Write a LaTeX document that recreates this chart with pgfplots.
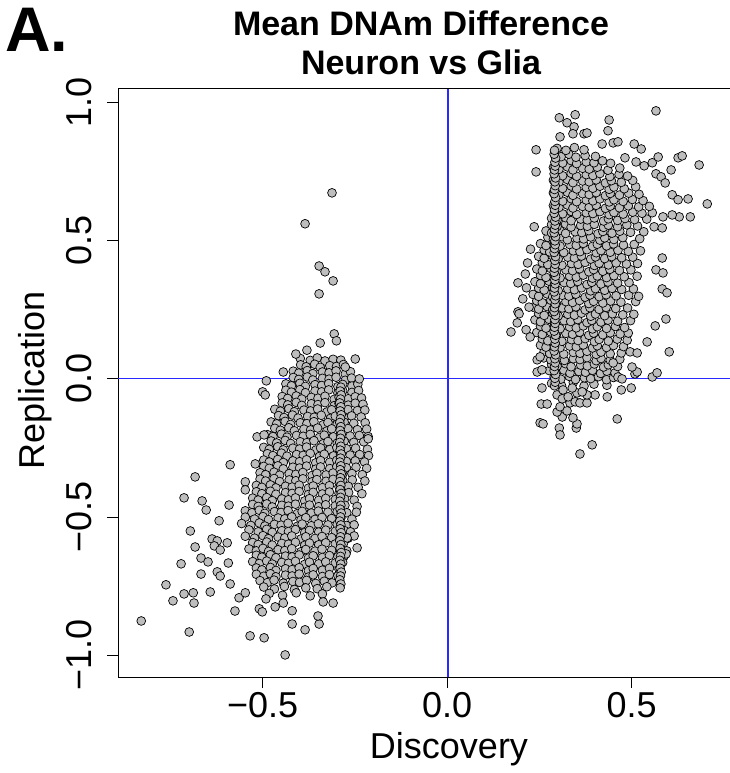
\documentclass[border=0pt]{standalone}
\usepackage{pgfplots}
\pgfplotsset{compat=1.18}
\usepackage{fontspec}
\setmainfont{Liberation Sans}
\definecolor{ptfill}{RGB}{190,190,190}
\definecolor{abl}{RGB}{40,40,255}
\begin{document}
\begin{tikzpicture}
\begin{axis}[
  at={(118pt,96pt)}, anchor=south west,
  scale only axis, width=624.3pt, height=588.2pt,
  xmin=-0.892, xmax=0.80, ymin=-1.080, ymax=1.051,
  axis line style={black, line width=0.9pt},
  xtick={-0.5,0,0.5}, xticklabels={−0.5,0.0,0.5},
  ytick={-1,-0.5,0,0.5,1}, yticklabels={−1.0,−0.5,0.0,0.5,1.0},
  tick align=outside, major tick length=11pt,
  xtick pos=bottom, ytick pos=left,
  tick style={black, line width=0.8pt},
  ticklabel style={font=\fontsize{36}{40}\selectfont},
  xticklabel style={anchor=base, inner sep=0pt},
  xticklabel shift=30pt,
  yticklabel style={rotate=90, anchor=base, inner sep=0pt},
  yticklabel shift=16pt,
  clip=false,
]
\addplot[only marks, mark=*, mark size=4.4pt, mark options={fill=ptfill, draw=black, line width=0.7pt}] coordinates {
(0.283,-0.016) (0.310,-0.024) (0.342,-0.013) (0.371,-0.026) (0.398,-0.019) (0.433,-0.023)
(0.290,0.007) (0.308,-0.001) (0.331,0.009) (0.348,-0.002) (0.372,0.004) (0.389,0.001) (0.410,0.008) (0.432,-0.003) (0.451,0.005)
(0.277,0.030) (0.296,0.023) (0.316,0.032) (0.333,0.021) (0.357,0.027) (0.375,0.024) (0.394,0.031) (0.416,0.020) (0.433,0.028) (0.455,0.022)
(0.283,0.053) (0.298,0.046) (0.321,0.055) (0.336,0.044) (0.362,0.050) (0.380,0.047) (0.399,0.054) (0.424,0.043) (0.437,0.051) (0.462,0.045)
(0.262,0.076) (0.281,0.069) (0.301,0.078) (0.318,0.067) (0.342,0.073) (0.360,0.070) (0.379,0.077) (0.404,0.066) (0.417,0.074) (0.442,0.068) (0.468,0.071)
(0.263,0.099) (0.278,0.092) (0.301,0.101) (0.316,0.090) (0.342,0.096) (0.360,0.093) (0.379,0.100) (0.404,0.089) (0.417,0.097) (0.442,0.091) (0.472,0.094)
(0.253,0.122) (0.268,0.115) (0.291,0.124) (0.306,0.113) (0.332,0.119) (0.350,0.116) (0.369,0.123) (0.394,0.112) (0.407,0.120) (0.432,0.114) (0.451,0.121) (0.478,0.117)
(0.258,0.145) (0.273,0.138) (0.296,0.147) (0.311,0.136) (0.337,0.142) (0.355,0.139) (0.374,0.146) (0.399,0.135) (0.412,0.143) (0.437,0.137) (0.461,0.144) (0.488,0.140)
(0.243,0.168) (0.258,0.161) (0.281,0.170) (0.296,0.159) (0.322,0.165) (0.340,0.162) (0.359,0.169) (0.384,0.158) (0.397,0.166) (0.422,0.160) (0.442,0.167) (0.469,0.163) (0.491,0.166)
(0.253,0.191) (0.268,0.184) (0.291,0.193) (0.306,0.182) (0.332,0.188) (0.350,0.185) (0.369,0.192) (0.394,0.181) (0.407,0.189) (0.432,0.183) (0.456,0.190) (0.481,0.186)
(0.238,0.214) (0.253,0.207) (0.276,0.216) (0.291,0.205) (0.317,0.211) (0.335,0.208) (0.354,0.215) (0.379,0.204) (0.392,0.212) (0.417,0.206) (0.436,0.213) (0.462,0.209) (0.497,0.211)
(0.248,0.237) (0.263,0.230) (0.286,0.239) (0.301,0.228) (0.327,0.234) (0.345,0.231) (0.364,0.238) (0.389,0.227) (0.402,0.235) (0.427,0.229) (0.448,0.236) (0.476,0.232) (0.506,0.234)
(0.233,0.260) (0.248,0.253) (0.271,0.262) (0.286,0.251) (0.312,0.257) (0.330,0.254) (0.349,0.261) (0.374,0.250) (0.387,0.258) (0.412,0.252) (0.431,0.259) (0.457,0.255) (0.489,0.257)
(0.243,0.283) (0.258,0.276) (0.281,0.285) (0.296,0.274) (0.322,0.280) (0.340,0.277) (0.359,0.284) (0.384,0.273) (0.397,0.281) (0.422,0.275) (0.443,0.282) (0.471,0.278) (0.511,0.280)
(0.233,0.306) (0.248,0.299) (0.271,0.308) (0.286,0.297) (0.312,0.303) (0.330,0.300) (0.349,0.307) (0.374,0.296) (0.387,0.304) (0.412,0.298) (0.431,0.305) (0.458,0.301) (0.492,0.303) (0.519,0.299)
(0.248,0.329) (0.263,0.322) (0.286,0.331) (0.301,0.320) (0.327,0.326) (0.345,0.323) (0.364,0.330) (0.389,0.319) (0.402,0.327) (0.427,0.321) (0.447,0.328) (0.473,0.324) (0.505,0.326)
(0.238,0.352) (0.253,0.345) (0.276,0.354) (0.291,0.343) (0.317,0.349) (0.335,0.346) (0.354,0.353) (0.379,0.342) (0.392,0.350) (0.417,0.344) (0.436,0.351) (0.462,0.347) (0.493,0.349)
(0.253,0.375) (0.268,0.368) (0.291,0.377) (0.306,0.366) (0.332,0.372) (0.350,0.369) (0.369,0.376) (0.394,0.365) (0.407,0.373) (0.432,0.367) (0.452,0.374) (0.480,0.370) (0.515,0.372)
(0.243,0.398) (0.258,0.391) (0.281,0.400) (0.296,0.389) (0.322,0.395) (0.340,0.392) (0.359,0.399) (0.384,0.388) (0.397,0.396) (0.422,0.390) (0.441,0.397) (0.467,0.393) (0.498,0.395)
(0.258,0.421) (0.273,0.414) (0.296,0.423) (0.311,0.412) (0.337,0.418) (0.355,0.415) (0.374,0.422) (0.399,0.411) (0.412,0.419) (0.437,0.413) (0.458,0.420) (0.486,0.416) (0.516,0.418)
(0.248,0.444) (0.263,0.437) (0.286,0.446) (0.301,0.435) (0.327,0.441) (0.345,0.438) (0.364,0.445) (0.389,0.434) (0.402,0.442) (0.427,0.436) (0.446,0.443) (0.473,0.439) (0.503,0.441)
(0.263,0.467) (0.278,0.460) (0.301,0.469) (0.316,0.458) (0.342,0.464) (0.360,0.461) (0.379,0.468) (0.404,0.457) (0.417,0.465) (0.442,0.459) (0.463,0.466) (0.491,0.462) (0.524,0.464)
(0.253,0.490) (0.268,0.483) (0.291,0.492) (0.306,0.481) (0.332,0.487) (0.350,0.484) (0.369,0.491) (0.394,0.480) (0.407,0.488) (0.432,0.482) (0.451,0.489) (0.478,0.485) (0.507,0.487)
(0.273,0.513) (0.288,0.506) (0.311,0.515) (0.326,0.504) (0.352,0.510) (0.370,0.507) (0.389,0.514) (0.414,0.503) (0.427,0.511) (0.452,0.505) (0.476,0.512) (0.522,0.508)
(0.268,0.536) (0.283,0.529) (0.306,0.538) (0.321,0.527) (0.347,0.533) (0.365,0.530) (0.384,0.537) (0.409,0.526) (0.422,0.534) (0.447,0.528) (0.468,0.535) (0.497,0.531) (0.533,0.533)
(0.283,0.559) (0.298,0.552) (0.321,0.561) (0.336,0.550) (0.362,0.556) (0.380,0.553) (0.399,0.560) (0.424,0.549) (0.437,0.557) (0.462,0.551) (0.487,0.558) (0.516,0.554)
(0.283,0.582) (0.298,0.575) (0.321,0.584) (0.336,0.573) (0.362,0.579) (0.380,0.576) (0.399,0.583) (0.424,0.572) (0.437,0.580) (0.462,0.574) (0.482,0.581) (0.508,0.577) (0.541,0.579)
(0.298,0.605) (0.313,0.598) (0.336,0.607) (0.351,0.596) (0.377,0.602) (0.395,0.599) (0.414,0.606) (0.439,0.595) (0.452,0.603) (0.477,0.597) (0.503,0.604) (0.528,0.600) (0.556,0.602)
(0.288,0.628) (0.303,0.621) (0.326,0.630) (0.341,0.619) (0.367,0.625) (0.385,0.622) (0.404,0.629) (0.429,0.618) (0.442,0.626) (0.467,0.620) (0.491,0.627) (0.519,0.623) (0.548,0.625)
(0.298,0.651) (0.313,0.644) (0.336,0.653) (0.351,0.642) (0.377,0.648) (0.395,0.645) (0.414,0.652) (0.439,0.641) (0.452,0.649) (0.477,0.643) (0.502,0.650) (0.531,0.646)
(0.288,0.674) (0.303,0.667) (0.326,0.676) (0.341,0.665) (0.367,0.671) (0.385,0.668) (0.404,0.675) (0.429,0.664) (0.442,0.672) (0.467,0.666) (0.492,0.673) (0.520,0.669)
(0.298,0.697) (0.313,0.690) (0.336,0.699) (0.351,0.688) (0.377,0.694) (0.395,0.691) (0.414,0.698) (0.439,0.687) (0.452,0.695) (0.480,0.689) (0.511,0.696)
(0.288,0.720) (0.303,0.713) (0.326,0.722) (0.341,0.711) (0.367,0.717) (0.385,0.714) (0.404,0.721) (0.429,0.710) (0.445,0.718) (0.472,0.712) (0.503,0.719)
(0.298,0.743) (0.313,0.736) (0.336,0.745) (0.351,0.734) (0.377,0.740) (0.395,0.737) (0.414,0.744) (0.441,0.733) (0.466,0.741) (0.489,0.735)
(0.288,0.766) (0.303,0.759) (0.326,0.768) (0.341,0.757) (0.367,0.763) (0.385,0.760) (0.407,0.767) (0.436,0.756) (0.468,0.764)
(0.298,0.789) (0.313,0.782) (0.336,0.791) (0.351,0.780) (0.377,0.786) (0.398,0.783) (0.421,0.790) (0.443,0.781)
(0.293,0.812) (0.309,0.805) (0.330,0.814) (0.349,0.803) (0.374,0.809) (0.402,0.806)
(0.298,0.835) (0.322,0.828) (0.345,0.838) (0.371,0.830)
(0.566,0.971) (0.304,0.946) (0.347,0.957) (0.325,0.928) (0.344,0.913) (0.439,0.938) (0.436,0.899) (0.306,0.877) (0.341,0.888) (0.371,0.888) (0.379,0.891)
(0.241,0.830) (0.241,0.750) (0.420,0.851) (0.450,0.855) (0.463,0.859) (0.507,0.851) (0.526,0.833) (0.482,0.801) (0.512,0.786) (0.534,0.772) (0.556,0.783) (0.572,0.804)
(0.626,0.801) (0.637,0.808) (0.683,0.775) (0.607,0.757) (0.566,0.743) (0.580,0.732) (0.591,0.710) (0.610,0.667) (0.626,0.649) (0.653,0.652) (0.705,0.634) (0.659,0.587)
(0.629,0.587) (0.585,0.587) (0.610,0.594) (0.561,0.551) (0.583,0.547) (0.583,0.438) (0.566,0.395) (0.585,0.384) (0.192,0.348) (0.236,0.551)
(0.173,0.170) (0.190,0.203) (0.192,0.243) (0.195,0.236) (0.214,0.178) (0.225,0.152) (0.205,0.290) (0.215,0.330) (0.222,0.260) (0.218,0.420) (0.226,0.470) (0.212,0.380)
(0.244,0.069) (0.252,0.080) (0.244,0.025) (0.257,0.033) (0.257,-0.033) (0.255,-0.091) (0.271,-0.091) (0.252,-0.159) (0.260,-0.163) (0.304,-0.178) (0.306,-0.203)
(0.350,-0.178) (0.352,-0.163) (0.341,-0.141) (0.312,-0.138) (0.298,-0.120) (0.306,-0.101) (0.325,-0.116) (0.333,-0.087) (0.347,-0.083) (0.360,-0.087) (0.379,-0.087)
(0.393,-0.239) (0.360,-0.272) (0.461,-0.145) (0.401,-0.058) (0.434,-0.065) (0.472,-0.040) (0.499,-0.033) (0.298,-0.058) (0.312,-0.072) (0.328,-0.065) (0.352,-0.051) (0.379,-0.058)
(0.314,-0.040) (0.339,-0.033) (0.366,-0.047) (0.556,0.007) (0.569,0.022) (0.509,0.018) (0.515,0.025) (0.501,0.043) (0.463,0.007) (0.474,0.000) (0.602,0.098) (0.542,0.134)
(0.564,0.192) (0.593,0.217) (0.496,0.098) (0.515,0.094) (0.583,0.326) (0.596,0.312) (0.450,0.058)
(0.291,-0.025) (0.293,-0.012) (0.292,0.002) (0.294,0.016) (0.290,0.030) (0.291,0.045) (0.293,0.058) (0.292,0.073) (0.294,0.087) (0.290,0.101) (0.291,0.116) (0.293,0.130) (0.292,0.144)
(0.294,0.158) (0.290,0.173) (0.291,0.187) (0.293,0.201) (0.292,0.215) (0.294,0.230) (0.290,0.244) (0.291,0.258) (0.293,0.272) (0.292,0.287) (0.294,0.301) (0.290,0.315) (0.291,0.329)
(0.293,0.344) (0.292,0.358) (0.294,0.372) (0.290,0.386) (0.291,0.401) (0.293,0.415) (0.292,0.429) (0.294,0.443) (0.290,0.458) (0.291,0.472) (0.293,0.486) (0.292,0.500) (0.294,0.515)
(0.290,0.529) (0.291,0.543) (0.293,0.557) (0.292,0.572) (0.294,0.586) (0.290,0.600) (0.291,0.614) (0.293,0.629) (0.292,0.643) (0.294,0.657) (0.290,0.671) (0.291,0.686) (0.293,0.700)
(0.292,0.714) (0.294,0.728) (0.290,0.743) (0.291,0.757) (0.293,0.771) (0.292,0.785) (0.294,0.800) (0.290,0.814) (0.291,0.828)
(-0.398,0.074) (-0.371,0.067) (-0.352,0.076) (-0.331,0.065) (-0.309,0.071) (-0.288,0.068)
(-0.397,0.051) (-0.382,0.044) (-0.359,0.053) (-0.344,0.042) (-0.318,0.048) (-0.300,0.045) (-0.281,0.052)
(-0.417,0.028) (-0.402,0.021) (-0.379,0.030) (-0.364,0.019) (-0.338,0.025) (-0.320,0.022) (-0.301,0.029) (-0.276,0.018) (-0.262,0.026)
(-0.417,0.005) (-0.402,-0.002) (-0.379,0.007) (-0.364,-0.004) (-0.338,0.002) (-0.320,-0.001) (-0.301,0.006) (-0.276,-0.005) (-0.259,0.003)
(-0.437,-0.018) (-0.422,-0.025) (-0.399,-0.016) (-0.384,-0.027) (-0.358,-0.021) (-0.340,-0.024) (-0.321,-0.017) (-0.296,-0.028) (-0.283,-0.020) (-0.258,-0.026) (-0.242,-0.019)
(-0.437,-0.041) (-0.422,-0.048) (-0.399,-0.039) (-0.384,-0.050) (-0.358,-0.044) (-0.340,-0.047) (-0.321,-0.040) (-0.296,-0.051) (-0.283,-0.043) (-0.258,-0.049) (-0.240,-0.042)
(-0.447,-0.064) (-0.432,-0.071) (-0.409,-0.062) (-0.394,-0.073) (-0.368,-0.067) (-0.350,-0.070) (-0.331,-0.063) (-0.306,-0.074) (-0.293,-0.066) (-0.268,-0.072) (-0.249,-0.065) (-0.232,-0.069)
(-0.447,-0.087) (-0.432,-0.094) (-0.409,-0.085) (-0.394,-0.096) (-0.368,-0.090) (-0.350,-0.093) (-0.331,-0.086) (-0.306,-0.097) (-0.293,-0.089) (-0.268,-0.095) (-0.249,-0.088) (-0.228,-0.092)
(-0.467,-0.110) (-0.452,-0.117) (-0.429,-0.108) (-0.414,-0.119) (-0.388,-0.113) (-0.370,-0.116) (-0.351,-0.109) (-0.326,-0.120) (-0.313,-0.112) (-0.288,-0.118) (-0.269,-0.111) (-0.243,-0.115) (-0.223,-0.113)
(-0.457,-0.133) (-0.442,-0.140) (-0.419,-0.131) (-0.404,-0.142) (-0.378,-0.136) (-0.360,-0.139) (-0.341,-0.132) (-0.316,-0.143) (-0.303,-0.135) (-0.278,-0.141) (-0.259,-0.134) (-0.233,-0.138)
(-0.477,-0.156) (-0.462,-0.163) (-0.439,-0.154) (-0.424,-0.165) (-0.398,-0.159) (-0.380,-0.162) (-0.361,-0.155) (-0.336,-0.166) (-0.323,-0.158) (-0.298,-0.164) (-0.279,-0.157) (-0.253,-0.161) (-0.222,-0.159)
(-0.467,-0.179) (-0.452,-0.186) (-0.429,-0.177) (-0.414,-0.188) (-0.388,-0.182) (-0.370,-0.185) (-0.351,-0.178) (-0.326,-0.189) (-0.313,-0.181) (-0.288,-0.187) (-0.269,-0.180) (-0.243,-0.184) (-0.218,-0.182)
(-0.487,-0.202) (-0.472,-0.209) (-0.449,-0.200) (-0.434,-0.211) (-0.408,-0.205) (-0.390,-0.208) (-0.371,-0.201) (-0.346,-0.212) (-0.333,-0.204) (-0.308,-0.210) (-0.289,-0.203) (-0.263,-0.207) (-0.238,-0.205) (-0.214,-0.209)
(-0.477,-0.225) (-0.462,-0.232) (-0.439,-0.223) (-0.424,-0.234) (-0.398,-0.228) (-0.380,-0.231) (-0.361,-0.224) (-0.336,-0.235) (-0.323,-0.227) (-0.298,-0.233) (-0.279,-0.226) (-0.253,-0.230) (-0.226,-0.228)
(-0.497,-0.248) (-0.482,-0.255) (-0.459,-0.246) (-0.444,-0.257) (-0.418,-0.251) (-0.400,-0.254) (-0.381,-0.247) (-0.356,-0.258) (-0.343,-0.250) (-0.318,-0.256) (-0.299,-0.249) (-0.273,-0.253) (-0.248,-0.251) (-0.216,-0.255)
(-0.487,-0.271) (-0.472,-0.278) (-0.449,-0.269) (-0.434,-0.280) (-0.408,-0.274) (-0.390,-0.277) (-0.371,-0.270) (-0.346,-0.281) (-0.333,-0.273) (-0.308,-0.279) (-0.289,-0.272) (-0.263,-0.276) (-0.237,-0.274) (-0.213,-0.278)
(-0.497,-0.294) (-0.482,-0.301) (-0.459,-0.292) (-0.444,-0.303) (-0.418,-0.297) (-0.400,-0.300) (-0.381,-0.293) (-0.356,-0.304) (-0.343,-0.296) (-0.318,-0.302) (-0.299,-0.295) (-0.273,-0.299) (-0.249,-0.297) (-0.224,-0.301)
(-0.497,-0.317) (-0.482,-0.324) (-0.459,-0.315) (-0.444,-0.326) (-0.418,-0.320) (-0.400,-0.323) (-0.381,-0.316) (-0.356,-0.327) (-0.343,-0.319) (-0.318,-0.325) (-0.299,-0.318) (-0.273,-0.322) (-0.247,-0.320) (-0.218,-0.324)
(-0.507,-0.340) (-0.492,-0.347) (-0.469,-0.338) (-0.454,-0.349) (-0.428,-0.343) (-0.410,-0.346) (-0.391,-0.339) (-0.366,-0.350) (-0.353,-0.342) (-0.328,-0.348) (-0.309,-0.341) (-0.283,-0.345) (-0.258,-0.343) (-0.230,-0.347)
(-0.507,-0.363) (-0.492,-0.370) (-0.469,-0.361) (-0.454,-0.372) (-0.428,-0.366) (-0.410,-0.369) (-0.391,-0.362) (-0.366,-0.373) (-0.353,-0.365) (-0.328,-0.371) (-0.309,-0.364) (-0.283,-0.368) (-0.257,-0.366) (-0.223,-0.370)
(-0.517,-0.386) (-0.502,-0.393) (-0.479,-0.384) (-0.464,-0.395) (-0.438,-0.389) (-0.420,-0.392) (-0.401,-0.385) (-0.376,-0.396) (-0.363,-0.388) (-0.338,-0.394) (-0.319,-0.387) (-0.293,-0.391) (-0.268,-0.389) (-0.241,-0.393)
(-0.517,-0.409) (-0.502,-0.416) (-0.479,-0.407) (-0.464,-0.418) (-0.438,-0.412) (-0.420,-0.415) (-0.401,-0.408) (-0.376,-0.419) (-0.363,-0.411) (-0.338,-0.417) (-0.319,-0.410) (-0.293,-0.414) (-0.267,-0.412) (-0.231,-0.416)
(-0.527,-0.432) (-0.512,-0.439) (-0.489,-0.430) (-0.474,-0.441) (-0.448,-0.435) (-0.430,-0.438) (-0.411,-0.431) (-0.386,-0.442) (-0.373,-0.434) (-0.348,-0.440) (-0.329,-0.433) (-0.303,-0.437) (-0.278,-0.435) (-0.252,-0.439)
(-0.527,-0.455) (-0.512,-0.462) (-0.489,-0.453) (-0.474,-0.464) (-0.448,-0.458) (-0.430,-0.461) (-0.411,-0.454) (-0.386,-0.465) (-0.373,-0.457) (-0.348,-0.463) (-0.329,-0.456) (-0.303,-0.460) (-0.277,-0.458) (-0.244,-0.462)
(-0.547,-0.478) (-0.529,-0.485) (-0.509,-0.476) (-0.494,-0.487) (-0.468,-0.481) (-0.450,-0.484) (-0.431,-0.477) (-0.406,-0.488) (-0.393,-0.480) (-0.368,-0.486) (-0.349,-0.479) (-0.323,-0.483) (-0.298,-0.481) (-0.272,-0.485) (-0.246,-0.483)
(-0.547,-0.501) (-0.522,-0.508) (-0.499,-0.499) (-0.484,-0.510) (-0.458,-0.504) (-0.440,-0.507) (-0.421,-0.500) (-0.396,-0.511) (-0.383,-0.503) (-0.358,-0.509) (-0.339,-0.502) (-0.313,-0.506) (-0.288,-0.504) (-0.258,-0.508)
(-0.557,-0.524) (-0.532,-0.531) (-0.509,-0.522) (-0.494,-0.533) (-0.468,-0.527) (-0.450,-0.530) (-0.431,-0.523) (-0.406,-0.534) (-0.393,-0.526) (-0.368,-0.532) (-0.349,-0.525) (-0.323,-0.529) (-0.298,-0.527) (-0.273,-0.531) (-0.252,-0.529)
(-0.537,-0.547) (-0.512,-0.554) (-0.489,-0.545) (-0.474,-0.556) (-0.448,-0.550) (-0.430,-0.553) (-0.411,-0.546) (-0.386,-0.557) (-0.373,-0.549) (-0.348,-0.555) (-0.329,-0.548) (-0.303,-0.552) (-0.278,-0.550) (-0.262,-0.554)
(-0.547,-0.570) (-0.522,-0.577) (-0.499,-0.568) (-0.484,-0.579) (-0.458,-0.573) (-0.440,-0.576) (-0.421,-0.569) (-0.396,-0.580) (-0.383,-0.572) (-0.358,-0.578) (-0.339,-0.571) (-0.313,-0.575) (-0.288,-0.573) (-0.268,-0.577)
(-0.527,-0.593) (-0.512,-0.600) (-0.489,-0.591) (-0.474,-0.602) (-0.448,-0.596) (-0.430,-0.599) (-0.411,-0.592) (-0.386,-0.603) (-0.373,-0.595) (-0.348,-0.601) (-0.329,-0.594) (-0.303,-0.598) (-0.281,-0.596)
(-0.537,-0.616) (-0.517,-0.623) (-0.499,-0.614) (-0.484,-0.625) (-0.458,-0.619) (-0.440,-0.622) (-0.421,-0.615) (-0.396,-0.626) (-0.383,-0.618) (-0.358,-0.624) (-0.339,-0.617) (-0.313,-0.621) (-0.290,-0.619) (-0.272,-0.623)
(-0.517,-0.639) (-0.502,-0.646) (-0.479,-0.637) (-0.464,-0.648) (-0.438,-0.642) (-0.420,-0.645) (-0.401,-0.638) (-0.376,-0.649) (-0.363,-0.641) (-0.338,-0.647) (-0.319,-0.640) (-0.296,-0.644) (-0.279,-0.642)
(-0.527,-0.662) (-0.509,-0.669) (-0.489,-0.660) (-0.474,-0.671) (-0.448,-0.665) (-0.430,-0.668) (-0.411,-0.661) (-0.386,-0.672) (-0.373,-0.664) (-0.348,-0.670) (-0.329,-0.663) (-0.303,-0.667) (-0.283,-0.665)
(-0.517,-0.685) (-0.502,-0.692) (-0.479,-0.683) (-0.464,-0.694) (-0.438,-0.688) (-0.420,-0.691) (-0.401,-0.684) (-0.376,-0.695) (-0.363,-0.687) (-0.338,-0.693) (-0.319,-0.686) (-0.293,-0.690)
(-0.517,-0.708) (-0.497,-0.715) (-0.479,-0.706) (-0.464,-0.717) (-0.438,-0.711) (-0.420,-0.714) (-0.401,-0.707) (-0.376,-0.718) (-0.363,-0.710) (-0.338,-0.716) (-0.319,-0.709) (-0.296,-0.713)
(-0.507,-0.731) (-0.487,-0.738) (-0.469,-0.729) (-0.444,-0.740) (-0.418,-0.734) (-0.400,-0.737) (-0.381,-0.730) (-0.356,-0.741) (-0.333,-0.733) (-0.312,-0.739)
(-0.497,-0.754) (-0.468,-0.761) (-0.441,-0.752) (-0.414,-0.763) (-0.383,-0.757) (-0.352,-0.760) (-0.326,-0.753)
(-0.482,-0.777) (-0.446,-0.784) (-0.409,-0.775) (-0.371,-0.786) (-0.338,-0.779)
(-0.312,0.674) (-0.385,0.562) (-0.347,0.409) (-0.331,0.388) (-0.309,0.355) (-0.347,0.308) (-0.306,0.163) (-0.300,0.138) (-0.344,0.130) (-0.249,0.072)
(-0.444,0.025) (-0.490,-0.007) (-0.238,0.000) (-0.500,-0.047) (-0.493,-0.058) (-0.410,0.090) (-0.380,0.104) (-0.276,0.043)
(-0.829,-0.877) (-0.699,-0.917) (-0.762,-0.746) (-0.743,-0.804) (-0.713,-0.779) (-0.688,-0.775) (-0.686,-0.812) (-0.721,-0.670) (-0.667,-0.707) (-0.642,-0.772)
(-0.683,-0.355) (-0.713,-0.431) (-0.664,-0.442) (-0.653,-0.475) (-0.696,-0.551) (-0.683,-0.609) (-0.667,-0.649) (-0.588,-0.311) (-0.591,-0.457) (-0.618,-0.514)
(-0.637,-0.580) (-0.623,-0.587) (-0.631,-0.605) (-0.615,-0.620) (-0.596,-0.594) (-0.593,-0.667) (-0.648,-0.663) (-0.623,-0.699) (-0.615,-0.714) (-0.588,-0.743)
(-0.575,-0.841) (-0.564,-0.793) (-0.547,-0.775) (-0.534,-0.931) (-0.496,-0.938) (-0.509,-0.833) (-0.501,-0.844) (-0.491,-0.797) (-0.466,-0.826) (-0.439,-1.000)
(-0.420,-0.888) (-0.385,-0.909) (-0.347,-0.888) (-0.350,-0.859) (-0.444,-0.812) (-0.420,-0.840) (-0.309,-0.812) (-0.336,-0.808) (-0.244,-0.612) (-0.274,-0.634)
(-0.252,-0.569) (-0.271,-0.576) (-0.214,-0.217) (-0.547,-0.373) (-0.547,-0.402) (-0.515,-0.210) (-0.496,-0.203) (-0.520,-0.308)
(-0.288,-0.030) (-0.290,-0.044) (-0.287,-0.058) (-0.289,-0.073) (-0.291,-0.087) (-0.288,-0.101) (-0.290,-0.116) (-0.287,-0.130) (-0.289,-0.144) (-0.291,-0.158)
(-0.288,-0.173) (-0.290,-0.187) (-0.287,-0.201) (-0.289,-0.215) (-0.291,-0.230) (-0.288,-0.244) (-0.290,-0.258) (-0.287,-0.272) (-0.289,-0.287) (-0.291,-0.301)
(-0.288,-0.315) (-0.290,-0.329) (-0.287,-0.344) (-0.289,-0.358) (-0.291,-0.372) (-0.288,-0.386) (-0.290,-0.401) (-0.287,-0.415) (-0.289,-0.429) (-0.291,-0.443)
(-0.288,-0.458) (-0.290,-0.472) (-0.287,-0.486) (-0.289,-0.500) (-0.291,-0.515) (-0.288,-0.529) (-0.290,-0.543) (-0.287,-0.557) (-0.289,-0.572) (-0.291,-0.586)
(-0.288,-0.600) (-0.290,-0.614) (-0.287,-0.629) (-0.289,-0.643) (-0.291,-0.657) (-0.288,-0.671) (-0.290,-0.686) (-0.287,-0.700) (-0.289,-0.714) (-0.291,-0.728)
(-0.288,-0.743) (-0.290,-0.757)
};
\addplot[draw=abl, line width=1.6pt, mark=none] table {
x y
0.002 -1.080
0.002 1.051
};
\addplot[draw=abl, line width=1pt, mark=none] table {
x y
-0.892 0
0.80 0
};
\end{axis}
\node[font=\bfseries\fontsize{63}{63}\selectfont, anchor=base west, inner sep=0pt] at (5pt,721pt) {A.};
\node[font=\bfseries\fontsize{34}{40}\selectfont, anchor=base, inner sep=0pt] at (421pt,737pt) {Mean DNAm Difference};
\node[font=\bfseries\fontsize{34}{40}\selectfont, anchor=base, inner sep=0pt] at (421pt,698pt) {Neuron vs Glia};
\node[font=\fontsize{36}{40}\selectfont, anchor=base, inner sep=0pt] at (449pt,14pt) {Discovery};
\node[font=\fontsize{36}{40}\selectfont, rotate=90, anchor=base, inner sep=0pt] at (44pt,393pt) {Replication};
\pgfresetboundingbox
\path[use as bounding box] (0pt,0pt) rectangle (729pt,773pt);
\end{tikzpicture}
\end{document}
